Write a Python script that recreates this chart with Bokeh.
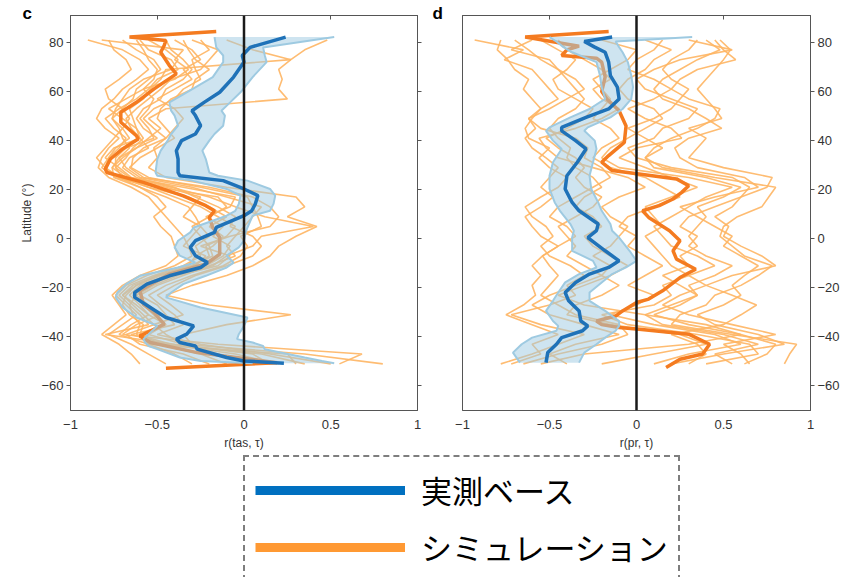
from bokeh.plotting import figure
from bokeh.models import Range1d, LinearAxis, FixedTicker, Span, Legend, LegendItem
from bokeh.layouts import column, row
from bokeh.embed import file_html
from bokeh.resources import INLINE

# ---------------- data ----------------
x_ticks = [-1, -0.5, 0, 0.5, 1]
x_tick_labels = ["−1", "−0.5", "0", "0.5", "1"]
y_ticks = [-60, -40, -20, 0, 20, 40, 60, 80]
y_tick_labels = ["−60", "−40", "−20", "0", "20", "40", "60", "80"]

# panel c: observation-based (blue) with uncertainty band
obs_c_lat = [-50.7, -49.8, -48.4, -45.0, -43.7, -42.3, -40.9, -38.9, -35.5, -32.1, -28.0, -23.9, -21.9,
             -18.5, -15.1, -11.7, -9.7, -6.9, -3.5, -0.8, 2.6, 4.6, 9.4, 11.4, 14.2, 17.6, 20.3, 23.7,
             25.7, 27.0, 32.5, 35.9, 40.0, 42.7, 46.1, 50.2, 52.2, 55.6, 59.7, 65.9, 72.0, 74.7, 78.0, 82.2]
obs_c_r = [0.23, 0.0, -0.10, -0.27, -0.28, -0.37, -0.39, -0.33, -0.29, -0.45, -0.54, -0.63, -0.63,
           -0.56, -0.43, -0.25, -0.21, -0.28, -0.31, -0.28, -0.17, -0.16, 0.0, 0.045, 0.065, 0.08, 0.0, -0.12,
           -0.37, -0.38, -0.38, -0.39, -0.36, -0.28, -0.25, -0.28, -0.30, -0.23, -0.14, -0.06, 0.0, -0.01, 0.035, 0.24]
obs_c_lo = [0.05, -0.25, -0.37, -0.50, -0.55, -0.57, -0.58, -0.55, -0.50, -0.62, -0.70, -0.74, -0.73,
            -0.68, -0.60, -0.38, -0.28, -0.37, -0.40, -0.38, -0.31, -0.29, -0.10, -0.05, -0.03, -0.02, -0.10, -0.30,
            -0.50, -0.51, -0.50, -0.48, -0.44, -0.42, -0.38, -0.40, -0.42, -0.43, -0.33, -0.18, -0.12, -0.12, -0.16, -0.17]
obs_c_hi = [0.52, 0.45, 0.35, 0.12, 0.11, 0.05, -0.04, -0.03, 0.0, 0.02, -0.25, -0.45, -0.42,
            -0.35, -0.22, -0.10, -0.06, -0.10, -0.03, 0.0, 0.01, 0.02, 0.05, 0.15, 0.17, 0.18, 0.15, 0.02,
            -0.15, -0.20, -0.22, -0.24, -0.20, -0.17, -0.12, -0.11, -0.13, -0.08, -0.02, 0.05, 0.13, 0.12, 0.11, 0.52]

# panel c: multi-model mean (thick orange)
mean_c_lat = [-52.8, -50.5, -46.4, -42.3, -39.6, -36.9, -34.8, -30.0, -26.7, -21.2, -14.4, -10.3, -6.3,
              0.5, 4.6, 8.7, 11.4, 13.5, 17.5, 23.0, 27.0, 28.4, 32.5, 36.6, 40.7, 42.0, 47.5, 51.6,
              55.6, 61.0, 67.2, 70.6, 76.0, 78.8, 80.8, 82.2, 84.5]
mean_c_r = [-0.45, 0.19, -0.27, -0.54, -0.60, -0.52, -0.46, -0.52, -0.58, -0.60, -0.43, -0.22, -0.14,
            -0.14, -0.18, -0.20, -0.17, -0.22, -0.35, -0.58, -0.79, -0.80, -0.77, -0.70, -0.61, -0.62, -0.71, -0.71,
            -0.62, -0.52, -0.39, -0.43, -0.48, -0.46, -0.45, -0.66, -0.16]

# panel d: observation-based (blue) with uncertainty band
obs_d_lat = [-50.5, -46.4, -43.0, -40.3, -37.5, -35.5, -33.5, -29.4, -25.3, -21.9, -17.8, -14.4, -11.7,
             -9.0, -4.9, 0.5, 3.3, 6.0, 11.4, 14.8, 20.3, 25.7, 31.2, 36.6, 40.0, 44.0, 45.4, 49.5,
             52.9, 57.0, 61.8, 66.5, 72.0, 76.0, 78.1, 80.4, 82.2]
obs_d_r = [-0.52, -0.51, -0.46, -0.43, -0.31, -0.28, -0.32, -0.33, -0.39, -0.41, -0.35, -0.27, -0.16,
           -0.10, -0.18, -0.28, -0.23, -0.22, -0.33, -0.37, -0.41, -0.40, -0.34, -0.29, -0.35, -0.43, -0.43, -0.29,
           -0.16, -0.10, -0.11, -0.15, -0.16, -0.18, -0.24, -0.30, -0.14]
obs_d_lo = [-0.67, -0.71, -0.66, -0.60, -0.46, -0.45, -0.48, -0.52, -0.48, -0.45, -0.41, -0.33, -0.23,
            -0.25, -0.37, -0.37, -0.36, -0.38, -0.44, -0.47, -0.50, -0.50, -0.48, -0.43, -0.48, -0.52, -0.50, -0.38,
            -0.27, -0.18, -0.20, -0.21, -0.23, -0.37, -0.42, -0.46, -0.50]
obs_d_hi = [-0.33, -0.30, -0.23, -0.18, -0.12, -0.10, -0.10, -0.18, -0.27, -0.27, -0.20, -0.14, -0.06,
            0.0, -0.04, -0.10, -0.14, -0.15, -0.20, -0.22, -0.26, -0.27, -0.25, -0.23, -0.24, -0.30, -0.28, -0.15,
            -0.08, -0.03, -0.02, -0.03, -0.05, -0.08, -0.10, -0.12, 0.32]

# panel d: multi-model mean (thick orange)
mean_d_lat = [-52.5, -49.1, -47.0, -43.0, -38.9, -36.9, -36.2, -35.0, -33.5, -31.5, -29.4, -26.0, -24.6,
              -21.2, -15.8, -12.4, -8.3, -4.9, -0.8, 3.3, 8.7, 11.4, 13.5, 16.2, 18.9, 21.6, 24.4,
              26.4, 27.8, 31.2, 33.9, 39.3, 46.0, 52.2, 57.0, 60.0, 66.0, 72.0, 73.6, 74.7, 77.0, 78.5,
              82.2, 84.5]
mean_d_r = [0.17, 0.25, 0.38, 0.42, 0.30, 0.015, -0.10, -0.20, -0.23, -0.12, -0.08, 0.0, 0.07,
            0.15, 0.25, 0.34, 0.23, 0.21, 0.25, 0.19, 0.07, 0.035, 0.13, 0.21, 0.26, 0.30, 0.23,
            0.015, -0.14, -0.20, -0.16, -0.07, -0.06, -0.10, -0.17, -0.20, -0.18, -0.20, -0.23, -0.43, -0.40, -0.33,
            -0.64, -0.16]

# individual simulations, on a shared latitude grid
sim_lat = [-51, -47, -43, -39, -35, -31, -27, -23, -19, -15, -11, -7, -3, 1, 5, 9, 13, 17,
           21, 25, 29, 33, 37, 41, 45, 49, 53, 57, 61, 65, 69, 73, 77, 81]

sim_c01 = [0.80, 0.35, -0.35, -0.55, -0.45, -0.55, -0.62, -0.70, -0.62, -0.50, -0.30, -0.20, -0.22, -0.10, -0.05, -0.15, -0.25, -0.40,
           -0.55, -0.72, -0.80, -0.78, -0.72, -0.68, -0.75, -0.80, -0.72, -0.62, -0.55, -0.50, -0.38, -0.42, -0.55, -0.60]
sim_c02 = [0.55, 0.68, -0.15, -0.70, -0.62, -0.48, -0.55, -0.62, -0.55, -0.40, -0.18, -0.10, 0.05, 0.10, 0.40, 0.12, -0.05, -0.20,
           -0.42, -0.65, -0.72, -0.80, -0.75, -0.60, -0.62, -0.70, -0.78, -0.68, -0.58, -0.40, -0.32, -0.40, -0.35, -0.82]
sim_c03 = [0.35, 0.10, -0.40, -0.80, -0.55, -0.60, -0.66, -0.72, -0.66, -0.52, -0.35, -0.25, -0.28, -0.20, -0.25, -0.28, -0.32, -0.45,
           -0.60, -0.75, -0.76, -0.70, -0.62, -0.55, -0.48, -0.55, -0.45, 0.25, 0.20, 0.22, 0.20, 0.27, 0.35, 0.48]
sim_c04 = [0.10, -0.20, -0.30, -0.35, -0.10, 0.27, -0.20, -0.45, -0.30, -0.10, 0.05, 0.15, 0.20, 0.30, 0.42, 0.25, 0.35, 0.30,
           -0.10, -0.45, -0.55, -0.50, -0.52, -0.45, -0.40, -0.35, -0.40, -0.50, -0.40, -0.30, -0.35, -0.25, -0.30, -0.40]
sim_c05 = [-0.45, -0.55, -0.65, -0.78, -0.70, -0.62, -0.68, -0.74, -0.68, -0.56, -0.40, -0.30, -0.32, -0.35, -0.40, -0.45, -0.50, -0.55,
           -0.65, -0.78, -0.84, -0.82, -0.78, -0.72, -0.80, -0.85, -0.82, -0.75, -0.70, -0.62, -0.55, -0.60, -0.70, -0.90]
sim_c06 = [0.20, -0.05, -0.45, -0.65, -0.40, -0.45, -0.50, -0.60, -0.50, -0.35, -0.20, -0.05, -0.10, -0.05, 0.00, 0.05, 0.10, -0.10,
           -0.30, -0.60, -0.68, -0.72, -0.62, -0.50, -0.58, -0.62, -0.58, -0.48, -0.45, -0.35, -0.30, -0.35, -0.42, -0.45]
sim_c07 = [-0.30, -0.40, -0.55, -0.60, -0.58, -0.66, -0.70, -0.68, -0.62, -0.48, -0.28, -0.22, -0.35, -0.30, -0.25, -0.35, -0.30, -0.25,
           -0.45, -0.68, -0.76, -0.72, -0.66, -0.70, -0.72, -0.76, -0.70, -0.64, -0.62, -0.55, -0.48, -0.52, -0.62, -0.70]
sim_c08 = [0.50, 0.15, -0.25, -0.50, -0.35, -0.40, -0.48, -0.55, -0.45, -0.30, -0.12, -0.02, 0.02, -0.02, 0.10, 0.08, 0.05, 0.02,
           -0.25, -0.55, -0.65, -0.64, -0.58, -0.45, -0.52, -0.58, -0.52, -0.40, -0.35, -0.25, -0.28, -0.30, -0.20, -0.25]
sim_c09 = [-0.60, -0.65, -0.72, -0.82, -0.75, -0.68, -0.72, -0.76, -0.70, -0.60, -0.45, -0.38, -0.40, -0.42, -0.48, -0.52, -0.45, -0.50,
           -0.60, -0.72, -0.80, -0.85, -0.80, -0.75, -0.70, -0.66, -0.70, -0.78, -0.80, -0.72, -0.65, -0.68, -0.75, -0.78]
sim_c10 = [0.05, -0.15, -0.35, -0.45, -0.52, -0.35, -0.42, -0.50, -0.40, -0.28, -0.10, 0.05, 0.10, 0.05, -0.08, -0.05, -0.15, -0.28,
           -0.40, -0.62, -0.70, -0.66, -0.55, -0.60, -0.65, -0.68, -0.62, -0.55, -0.48, -0.42, -0.25, -0.20, -0.15, -0.30]
sim_c11 = [0.30, 0.25, -0.55, -0.72, -0.65, -0.55, -0.60, -0.66, -0.60, -0.45, -0.30, -0.18, -0.20, -0.25, -0.30, -0.20, -0.10, -0.15,
           -0.50, -0.74, -0.82, -0.78, -0.74, -0.66, -0.70, -0.76, -0.74, -0.70, -0.66, -0.58, -0.42, -0.38, -0.45, -0.55]
sim_c12 = [-0.20, -0.35, -0.60, -0.68, -0.52, -0.58, -0.64, -0.70, -0.64, -0.50, -0.32, -0.28, -0.18, -0.12, -0.20, -0.10, -0.20, -0.32,
           -0.55, -0.70, -0.74, -0.68, -0.64, -0.58, -0.62, -0.64, -0.66, -0.58, -0.54, -0.48, -0.45, 0.27, 0.05, -0.10]
sim_c13 = [-0.10, -0.25, -0.50, -0.58, -0.45, -0.52, -0.58, -0.64, -0.55, -0.42, -0.22, -0.12, -0.08, -0.18, -0.12, -0.22, -0.08, -0.05,
           -0.35, -0.66, -0.74, -0.74, -0.68, -0.52, -0.55, -0.60, -0.55, -0.52, -0.58, -0.52, -0.50, -0.55, -0.58, -0.62]
sim_c14 = [0.15, 0.05, -0.42, -0.62, -0.60, -0.64, -0.66, -0.62, -0.52, -0.38, -0.15, -0.08, -0.25, -0.08, 0.15, 0.20, 0.15, 0.05,
           -0.20, -0.58, -0.66, -0.60, -0.50, -0.40, -0.45, -0.50, -0.48, -0.42, -0.30, -0.28, -0.20, -0.28, -0.32, -0.35]

sim_d01 = [0.85, 0.88, 0.92, 0.55, 0.20, 0.25, 0.40, 0.45, 0.60, 0.70, 0.78, 0.62, 0.55, 0.48, 0.50, 0.58, 0.72, 0.76,
           0.80, 0.45, 0.15, 0.05, 0.10, 0.20, 0.35, 0.45, 0.48, 0.30, 0.20, 0.25, 0.35, 0.57, 0.50, 0.45]
sim_d02 = [0.62, 0.75, 0.80, 0.60, 0.30, 0.10, 0.25, 0.35, 0.30, 0.45, 0.55, 0.40, 0.30, 0.35, 0.25, 0.30, 0.45, 0.60,
           0.65, 0.55, 0.20, 0.00, -0.05, 0.10, 0.15, 0.30, 0.35, 0.20, 0.05, 0.00, 0.10, 0.25, 0.55, 0.30]
sim_d03 = [-0.78, -0.60, -0.45, -0.30, -0.55, -0.72, -0.50, -0.35, -0.40, -0.30, -0.38, -0.50, -0.55, -0.48, -0.52, -0.60, -0.64, -0.55,
           -0.45, -0.40, -0.50, -0.56, -0.50, -0.62, -0.64, -0.60, -0.55, -0.45, -0.50, -0.55, -0.60, -0.76, -0.65, -0.93]
sim_d04 = [0.40, 0.70, 0.65, 0.35, -0.05, -0.20, 0.10, 0.20, 0.15, 0.30, 0.45, 0.35, 0.20, 0.15, 0.10, 0.20, 0.30, 0.40,
           0.55, 0.30, -0.10, -0.20, -0.15, -0.05, 0.05, 0.15, 0.10, -0.05, -0.10, -0.05, 0.05, 0.10, 0.20, 0.05]
sim_d05 = [-0.55, -0.30, 0.30, 0.60, 0.40, 0.05, -0.30, -0.45, -0.30, -0.15, -0.05, -0.15, -0.25, -0.30, -0.20, -0.25, -0.35, -0.30,
           -0.20, -0.25, -0.35, -0.40, -0.38, -0.45, -0.50, -0.45, -0.35, -0.30, -0.35, -0.40, -0.45, -0.55, -0.62, -0.70]
sim_d06 = [0.20, 0.50, 0.85, 0.70, 0.45, 0.35, 0.50, 0.60, 0.55, 0.62, 0.70, 0.60, 0.50, 0.55, 0.45, 0.35, 0.25, 0.45,
           0.70, 0.62, 0.35, 0.25, 0.22, 0.30, 0.49, 0.40, 0.30, 0.15, 0.10, 0.15, 0.25, 0.35, 0.48, 0.40]
sim_d07 = [-0.40, -0.50, -0.35, -0.10, -0.30, -0.50, -0.60, -0.50, -0.35, -0.20, -0.30, -0.40, -0.35, -0.40, -0.45, -0.35, -0.25, -0.20,
           -0.30, -0.35, -0.30, -0.35, -0.45, -0.52, -0.40, -0.30, -0.25, -0.35, -0.45, -0.48, -0.40, -0.35, -0.45, -0.55]
sim_d08 = [0.65, 0.60, 0.50, 0.80, 0.55, 0.30, 0.15, 0.25, 0.40, 0.30, 0.20, 0.15, 0.10, 0.05, 0.15, 0.10, 0.05, 0.20,
           0.35, 0.20, 0.05, -0.10, 0.00, 0.26, 0.20, 0.05, -0.05, 0.10, 0.20, 0.10, -0.05, 0.00, 0.10, 0.15]
sim_d09 = [-0.65, -0.45, -0.20, -0.05, -0.10, -0.35, -0.45, -0.55, -0.50, -0.45, -0.50, -0.54, -0.45, -0.35, -0.40, -0.50, -0.45, -0.35,
           -0.25, -0.15, -0.20, -0.30, -0.28, -0.35, -0.55, -0.62, -0.50, -0.40, -0.30, -0.35, -0.45, -0.50, -0.72, -0.60]
sim_d10 = [0.10, 0.30, 0.60, 0.45, 0.10, -0.15, 0.00, 0.10, -0.05, 0.05, 0.15, 0.05, -0.05, 0.00, -0.10, -0.05, 0.10, 0.25,
           0.15, 0.05, -0.15, -0.25, -0.20, -0.10, -0.15, -0.25, -0.20, -0.15, -0.20, -0.25, -0.15, -0.05, 0.00, -0.20]
sim_d11 = [0.30, 0.40, 0.35, 0.20, 0.50, 0.60, 0.69, 0.55, 0.40, 0.55, 0.80, 0.72, 0.60, 0.50, 0.53, 0.45, 0.55, 0.60,
           0.75, 0.78, 0.50, 0.30, 0.35, 0.40, 0.30, 0.49, 0.45, 0.40, 0.35, 0.40, 0.45, 0.50, 0.54, 0.48]
sim_d12 = [-0.20, 0.10, 0.40, 0.25, -0.15, -0.40, -0.35, -0.20, -0.10, -0.20, -0.15, -0.25, -0.15, -0.10, -0.05, -0.15, -0.20, -0.10,
           0.05, -0.05, -0.25, -0.45, -0.52, -0.56, -0.35, -0.20, -0.10, -0.20, -0.25, -0.15, -0.20, -0.30, -0.40, -0.45]
sim_d13 = [0.55, 0.45, 0.70, 0.50, 0.15, 0.05, 0.20, 0.35, 0.25, 0.15, 0.30, 0.25, 0.35, 0.30, 0.35, 0.40, 0.35, 0.50,
           0.60, 0.40, 0.10, 0.05, 0.15, 0.05, -0.05, 0.10, 0.20, 0.25, 0.30, 0.20, 0.15, 0.20, 0.30, 0.35]
sim_d14 = [-0.72, -0.55, -0.60, -0.45, -0.60, -0.75, -0.65, -0.58, -0.60, -0.55, -0.60, -0.54, -0.45, -0.55, -0.60, -0.64, -0.55, -0.48,
           -0.55, -0.50, -0.45, -0.52, -0.60, -0.64, -0.58, -0.62, -0.55, -0.60, -0.65, -0.62, -0.70, -0.74, -0.80, -0.78]

sims_c = [sim_c01, sim_c02, sim_c03, sim_c04, sim_c05, sim_c06, sim_c07,
          sim_c08, sim_c09, sim_c10, sim_c11, sim_c12, sim_c13, sim_c14]
sims_d = [sim_d01, sim_d02, sim_d03, sim_d04, sim_d05, sim_d06, sim_d07,
          sim_d08, sim_d09, sim_d10, sim_d11, sim_d12, sim_d13, sim_d14]

legend_labels = ["実測ベース", "シミュレーション"]

# ---------------- style ----------------
AX = "#555555"
TXT = "#333333"
FONT = "Liberation Sans"
BLUE = "#1f72b8"
BAND = "#9ecae1"
ORANGE = "#f47b20"
SIMC = "#feb563"


def axis(ticks, labels, show_labels, tick_in, tick_out, label=None, standoff=3):
    if show_labels:
        ov = {t: l for t, l in zip(ticks, labels)}
    else:
        ov = {t: "" for t in ticks}
    ax = LinearAxis(ticker=FixedTicker(ticks=ticks), major_label_overrides=ov)
    ax.major_tick_in = tick_in
    ax.major_tick_out = tick_out
    ax.minor_tick_line_color = None
    ax.axis_line_color = AX
    ax.major_tick_line_color = AX
    ax.major_label_text_font = FONT
    ax.major_label_text_font_size = "13px" if show_labels else "1px"
    ax.major_label_text_color = TXT
    ax.major_label_standoff = standoff if show_labels else 0
    if label:
        ax.axis_label = label
        ax.axis_label_text_font = FONT
        ax.axis_label_text_font_size = "12px"
        ax.axis_label_text_font_style = "normal"
        ax.axis_label_text_color = TXT
        ax.axis_label_standoff = 4
    return ax


def panel(width, bl, br, sims, mean_lat, mean_r, obs_lat, obs_r, lo, hi, letter, letter_dx,
          left_labels, right_labels, xlabel):
    p = figure(width=width, height=455, x_range=Range1d(-1, 1), y_range=Range1d(-70, 91),
               output_backend="svg", toolbar_location=None,
               x_axis_location=None, y_axis_location=None,
               min_border_left=bl, min_border_right=br, min_border_top=15, min_border_bottom=45)
    p.grid.visible = False
    p.outline_line_color = AX
    p.background_fill_color = "white"
    p.border_fill_color = "white"

    if left_labels:
        p.add_layout(axis(y_ticks, y_tick_labels, True, 0, 4, "Latitude (°)"), "left")
    p.add_layout(axis(y_ticks, y_tick_labels, right_labels, 0, 4), "right")
    p.add_layout(axis(x_ticks, x_tick_labels, False, 4, 0), "above")
    p.add_layout(axis(x_ticks, x_tick_labels, True, 0, 0, xlabel, standoff=9), "below")

    p.multi_line(xs=sims, ys=[sim_lat] * len(sims), line_color=SIMC, line_width=1.6, line_alpha=0.9)
    p.line(mean_r, mean_lat, line_color=ORANGE, line_width=3.5)
    p.add_layout(Span(location=0, dimension="height", line_color="#1a1a1a", line_width=2.5))
    p.harea(x1=lo, x2=hi, y=obs_lat, fill_color=BAND, fill_alpha=0.5)
    p.line(lo, obs_lat, line_color=BAND, line_width=2)
    p.line(hi, obs_lat, line_color=BAND, line_width=2)
    p.line(obs_r, obs_lat, line_color=BLUE, line_width=3.5)

    # panel letter as the figure title, pulled down beside the frame's top edge
    p.title.text = letter
    p.title.text_font = FONT
    p.title.text_font_style = "bold"
    p.title.text_font_size = "17px"
    p.title.text_color = "black"
    p.title.align = "left"
    p.title.offset = letter_dx
    p.title.standoff = -24
    p.title.vertical_align = "top"
    return p


p1 = panel(430, 70, 13, sims_c, mean_c_lat, mean_c_r, obs_c_lat, obs_c_r, obs_c_lo, obs_c_hi,
           "c", -48, True, False, "r(tas, τ)")
p2 = panel(414, 32, 34, sims_d, mean_d_lat, mean_d_r, obs_d_lat, obs_d_r, obs_d_lo, obs_d_hi,
           "d", -30, False, True, "r(pr, τ)")

# legend panel
p3 = figure(width=844, height=122, output_backend="svg", toolbar_location=None,
            x_range=Range1d(0, 1), y_range=Range1d(0, 1),
            x_axis_location=None, y_axis_location=None,
            min_border_left=243, min_border_top=0, min_border_right=0, min_border_bottom=0)
p3.grid.visible = False
p3.outline_line_color = None
r_obs = p3.line(x=[0], y=[0], line_color="#0070c0", line_width=9)
r_sim = p3.line(x=[0], y=[0], line_color="#ff9933", line_width=9)
legend = Legend(items=[LegendItem(label=legend_labels[0], renderers=[r_obs]),
                       LegendItem(label=legend_labels[1], renderers=[r_sim])],
                location="top_left", margin=0, padding=10, spacing=12,
                glyph_width=150, glyph_height=24, label_height=24, label_standoff=16,
                label_text_font="Noto Sans CJK JP", label_text_font_size="31px",
                label_text_color="black",
                border_line_color="black", border_line_width=2, border_line_dash="7 5",
                background_fill_color="white", background_fill_alpha=1.0)
p3.add_layout(legend)

layout = column(row(p1, p2), p3)
open("out.html", "w").write(file_html(layout, INLINE))
